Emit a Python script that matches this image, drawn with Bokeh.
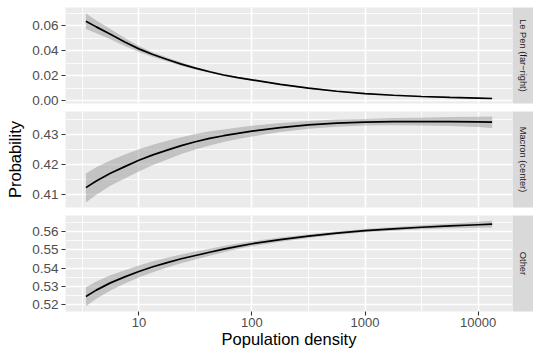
import math
from bokeh.plotting import figure
from bokeh.layouts import column, row
from bokeh.models import Range1d, FixedTicker, PrintfTickFormatter
from bokeh.core.properties import value
from bokeh.embed import file_html
from bokeh.resources import INLINE

# ---- data ----
density = [3.4, 4.2, 5.6, 7.5, 10, 13.3, 17.8, 23.7, 31.6, 42.2, 56.2, 75,
           100, 178, 316, 562, 1000, 1778, 3162, 5623, 10000, 13300]

lepen_fit = [0.0634, 0.0589, 0.0530, 0.0468, 0.0413, 0.0368, 0.0328, 0.0291, 0.0259, 0.0230, 0.0204,
             0.0183, 0.0165, 0.0129, 0.0099, 0.0074, 0.0055, 0.0042, 0.0032, 0.0025, 0.0019, 0.0016]
lepen_lo = [0.0573, 0.0539, 0.0490, 0.0437, 0.0389, 0.0349, 0.0312, 0.0278, 0.0249, 0.0222, 0.0197,
            0.0177, 0.0159, 0.0124, 0.0094, 0.0070, 0.0051, 0.0038, 0.0028, 0.0021, 0.0015, 0.0012]
lepen_hi = [0.0698, 0.0641, 0.0572, 0.0500, 0.0437, 0.0387, 0.0344, 0.0304, 0.0269, 0.0238, 0.0211,
            0.0189, 0.0171, 0.0134, 0.0104, 0.0078, 0.0059, 0.0046, 0.0036, 0.0029, 0.0023, 0.0020]

macron_fit = [0.4123, 0.4145, 0.4171, 0.4193, 0.4214, 0.4232, 0.4248, 0.4263, 0.4276, 0.4287, 0.4296,
              0.4304, 0.4311, 0.4323, 0.4332, 0.4338, 0.4341, 0.4343, 0.4343, 0.4343, 0.4342, 0.4341]
macron_lo = [0.4073, 0.4099, 0.4129, 0.4153, 0.4177, 0.4198, 0.4217, 0.4235, 0.4250, 0.4263, 0.4275,
             0.4285, 0.4293, 0.4308, 0.4319, 0.4326, 0.4330, 0.4331, 0.4330, 0.4328, 0.4325, 0.4322]
macron_hi = [0.4170, 0.4191, 0.4213, 0.4233, 0.4251, 0.4266, 0.4279, 0.4291, 0.4302, 0.4311, 0.4317,
             0.4323, 0.4329, 0.4338, 0.4345, 0.4350, 0.4352, 0.4355, 0.4356, 0.4358, 0.4359, 0.4360]

other_fit = [0.5243, 0.5278, 0.5318, 0.5351, 0.5381, 0.5407, 0.5430, 0.5451, 0.5469, 0.5487, 0.5504,
             0.5520, 0.5534, 0.5557, 0.5576, 0.5593, 0.5606, 0.5616, 0.5625, 0.5633, 0.5639, 0.5642]
other_lo = [0.5189, 0.5231, 0.5276, 0.5314, 0.5348, 0.5377, 0.5403, 0.5427, 0.5447, 0.5468, 0.5487,
            0.5505, 0.5520, 0.5545, 0.5566, 0.5584, 0.5597, 0.5606, 0.5614, 0.5620, 0.5623, 0.5624]
other_hi = [0.5294, 0.5325, 0.5360, 0.5388, 0.5414, 0.5437, 0.5457, 0.5475, 0.5491, 0.5506, 0.5521,
            0.5535, 0.5548, 0.5569, 0.5586, 0.5602, 0.5615, 0.5626, 0.5636, 0.5646, 0.5655, 0.5661]

strip_labels = ["Le Pen (far\u2212right)", "Macron (center)", "Other"]

x_ticks = [10, 100, 1000, 10000]
x_minor = [10 ** 0.5, 10 ** 1.5, 10 ** 2.5, 10 ** 3.5, 10 ** 4.5]

y_ticks = [[0.00, 0.02, 0.04, 0.06], [0.41, 0.42, 0.43], [0.52, 0.53, 0.54, 0.55, 0.56]]
y_minor = [[-0.01, 0.01, 0.03, 0.05, 0.07],
           [0.405, 0.415, 0.425, 0.435],
           [0.515, 0.525, 0.535, 0.545, 0.555, 0.565]]
y_limits = [(-0.0024, 0.0744), (0.40567, 0.43767), (0.5160, 0.5690)]

fits = [lepen_fit, macron_fit, other_fit]
los = [lepen_lo, macron_lo, other_lo]
his = [lepen_hi, macron_hi, other_hi]

FONT = "Liberation Sans"
x_lim = (10 ** 0.351, 10 ** 4.304)

# layout: (height, border_top, border_bottom)
dims = [(107, 7, 4), (104, 4, 4), (140, 4, 40)]

rows = []
for i in range(3):
    h, bt, bb = dims[i]
    p = figure(width=512, height=h, x_axis_type="log",
               x_range=Range1d(*x_lim), y_range=Range1d(*y_limits[i]),
               output_backend="svg", toolbar_location=None, title=None,
               min_border_left=65, min_border_right=0,
               min_border_top=bt, min_border_bottom=bb)
    p.background_fill_color = "#EBEBEB"
    p.border_fill_color = "white"
    p.outline_line_color = None

    p.varea(x=density, y1=los[i], y2=his[i], fill_color="#999999", fill_alpha=0.5)
    p.line(x=density, y=fits[i], line_color="black", line_width=1.7)

    p.xaxis.ticker = FixedTicker(ticks=x_ticks, minor_ticks=x_minor)
    p.yaxis.ticker = FixedTicker(ticks=y_ticks[i], minor_ticks=y_minor[i])
    p.yaxis.formatter = PrintfTickFormatter(format="%.2f")
    p.xaxis.formatter = PrintfTickFormatter(format="%d")

    for g in (p.xgrid, p.ygrid):
        g.grid_line_color = "white"
        g.grid_line_width = 1.6
        g.minor_grid_line_color = "white"
        g.minor_grid_line_width = 0.8

    for ax in (p.xaxis, p.yaxis):
        ax.axis_line_color = None
        ax.major_tick_line_color = "#333333"
        ax.major_tick_line_width = 1.1
        ax.major_tick_out = 4
        ax.major_tick_in = 0
        ax.minor_tick_line_color = None
        ax.major_label_text_color = "#4D4D4D"
        ax.major_label_text_font = FONT
        ax.major_label_text_font_size = "13.5px"
        ax.axis_label_text_font = FONT
        ax.axis_label_text_font_style = "normal"
        ax.axis_label_text_color = "black"
        ax.axis_label_text_font_size = "16.5px"

    p.yaxis.major_label_standoff = 3
    p.yaxis.axis_label_standoff = 5
    if i == 1:
        p.yaxis.axis_label = "Probability"
    if i < 2:
        p.xaxis.visible = False
    else:
        p.xaxis.axis_label = "Population density"
        p.xaxis.major_label_standoff = 2
        p.xaxis.axis_label_standoff = 0
        p.xaxis.major_label_text_font_size = "13px"

    s = figure(width=21, height=h, x_range=Range1d(0, 1), y_range=Range1d(0, 1),
               output_backend="svg", toolbar_location=None, title=None,
               x_axis_location=None, y_axis_location=None,
               min_border_left=0, min_border_right=0,
               min_border_top=bt, min_border_bottom=bb)
    s.background_fill_color = "#D9D9D9"
    s.border_fill_color = "white"
    s.outline_line_color = None
    s.xgrid.visible = False
    s.ygrid.visible = False
    s.text(x=[0.5], y=[0.5], text=[strip_labels[i]], angle=-math.pi / 2,
           text_align="center", text_baseline="middle",
           text_font=value(FONT), text_font_size="9.3px", text_color="#1A1A1A")

    rows.append(row(p, s, spacing=0))

layout = column(*rows, spacing=0)
open("out.html", "w").write(file_html(layout, INLINE))
